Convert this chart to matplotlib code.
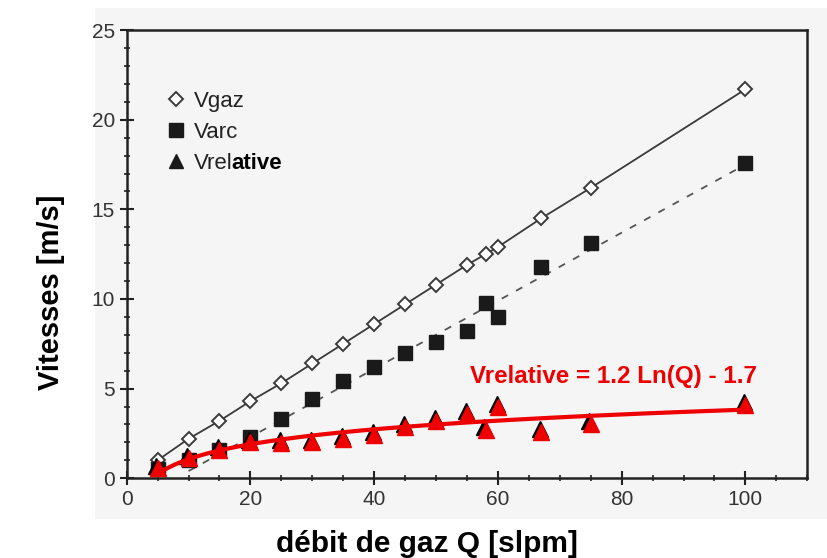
import numpy as np
import matplotlib
matplotlib.use('Agg')
import matplotlib.pyplot as plt
from matplotlib.ticker import MultipleLocator
from matplotlib.transforms import offset_copy

plt.rcParams['font.family'] = ['Liberation Sans', 'DejaVu Sans']

# débit de gaz (slpm)
q = [5, 10, 15, 20, 25, 30, 35, 40, 45, 50, 55, 58, 60, 67, 75, 100]
v_gaz = [1.0, 2.2, 3.2, 4.3, 5.3, 6.4, 7.5, 8.6, 9.7, 10.8, 11.9, 12.5, 12.9, 14.5, 16.2, 21.7]
v_arc = [0.5, 1.0, 1.6, 2.3, 3.3, 4.4, 5.4, 6.2, 7.0, 7.6, 8.2, 9.8, 9.0, 11.8, 13.1, 17.6]
v_rel = [0.55, 1.1, 1.6, 2.0, 1.95, 2.0, 2.2, 2.4, 2.85, 3.2, 3.6, 2.7, 4.0, 2.6, 3.05, 4.1]

# ajustement log de Vrelative
fit_a, fit_b = 1.2, -1.7
# droite en pointillés de Varc
arc_slope, arc_icpt = 0.19, -1.5

fig = plt.figure(figsize=(8.28, 5.58), dpi=100)
bg = plt.Rectangle((0.115, 0.07), 0.885, 0.915, transform=fig.transFigure,
                   facecolor='#f5f5f5', edgecolor='none', zorder=-10)
fig.add_artist(bg)
ax = fig.add_axes([0.153, 0.143, 0.822, 0.803])
ax.set_zorder(1)
ax.set_facecolor('#f5f5f5')

gray = '#3a3a3a'
ax.plot(q, v_gaz, '-', color=gray, lw=1.3, zorder=2)
qa = np.array([q[1], q[-1]])
ax.plot(qa, arc_slope * qa + arc_icpt, '--', color='#555555', lw=1.3, dashes=(4, 5), zorder=2)

h_gaz, = ax.plot(q, v_gaz, 'D', ms=7, mfc='white', mec=gray, mew=1.4, ls='none', zorder=3)
h_arc, = ax.plot(q, v_arc, 's', ms=10, color='#1a1a1a', ls='none', zorder=3)

shadow = offset_copy(ax.transData, fig=fig, x=-1.0, y=2.0, units='points')
ax.plot(q, v_rel, '^', ms=12, color='black', ls='none', transform=shadow, zorder=4)
ax.plot(q, v_rel, '^', ms=12, color='#ee0000', ls='none', zorder=5)

qq = np.linspace(q[0], q[-1], 200)
ax.plot(qq, fit_a * np.log(qq) + fit_b, '-', color='#ee0000', lw=3, zorder=6)

h_rel, = ax.plot([], [], '^', ms=10, color='#1a1a1a', ls='none')
leg = ax.legend([h_gaz, h_arc, h_rel], ['Vgaz', 'Varc', 'Vrel'], loc='upper left',
                bbox_to_anchor=(0.06, 0.864), frameon=False, fontsize=16, handletextpad=0.4,
                labelspacing=0.45, handlelength=0.8, borderpad=0, borderaxespad=0)
for t in leg.get_texts():
    t.set_color('#222222')
# fin du libellé en gras, dessinée après la légende
ax.annotate('ative', xy=(1, 0), xycoords=leg.get_texts()[2], xytext=(-1.2, 0),
            textcoords='offset points', va='bottom', ha='left',
            fontsize=16, fontweight='bold', color='black', zorder=10)

ax.text(55.5, 5.7, 'Vrelative = 1.2 Ln(Q) - 1.7', color='#ee0000', fontsize=17.4,
        fontweight='bold', va='center', ha='left')

ax.set_xlim(0, 110)
ax.set_ylim(0, 25)
ax.xaxis.set_major_locator(MultipleLocator(20))
ax.xaxis.set_minor_locator(MultipleLocator(5))
ax.yaxis.set_major_locator(MultipleLocator(5))
ax.yaxis.set_minor_locator(MultipleLocator(1))
ax.tick_params(which='major', direction='inout', length=10, width=1.5, labelsize=15,
               labelcolor='#333333', color='#222222')
ax.tick_params(which='minor', direction='inout', length=5, width=1.2, color='#222222')
for s in ax.spines.values():
    s.set_linewidth(1.8)
    s.set_color('#222222')

ax.set_xlabel('débit de gaz Q [slpm]', fontsize=21.5, fontweight='bold')
ax.set_ylabel('Vitesses [m/s]', fontsize=21, fontweight='bold')
ax.xaxis.set_label_coords(0.441, -0.116)
ax.yaxis.set_label_coords(-0.09, 0.415)

fig.savefig('out.png', dpi=100)
